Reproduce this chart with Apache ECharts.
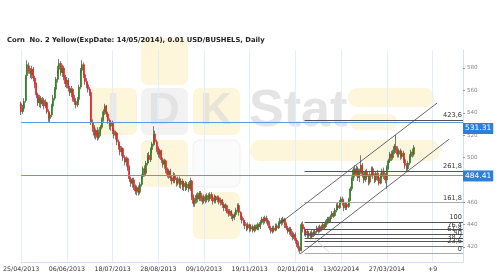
<!DOCTYPE html>
<html><head><meta charset="utf-8">
<script src="https://cdn.jsdelivr.net/npm/echarts@6/dist/echarts.min.js"></script>
<style>html,body{margin:0;padding:0;background:#fff}#c{width:500px;height:279px}</style>
</head><body><div id="c"></div>
<script>
const titleText = 'Corn  No. 2 Yellow(ExpDate: 14/05/2014), 0.01 USD/BUSHELS, Daily';
const tickLabels = ['25/04/2013','06/06/2013','18/07/2013','28/08/2013','09/10/2013','19/11/2013','02/01/2014','13/02/2014','27/03/2014','+9'];
const priceTicks = [420,440,460,480,500,520,540,560,580];
// [open, close, low, high]
const p1 = [[548,541,538,550],[541,544,539,547],[544,550,542,553],[551,572,549,574],[573,583,570,587],[582,578,575,585],[578,575,571,580],[574,579,570,582],[579,571,568,581],[571,566,562,573],
[566,556,553,567],[556,549,546,558],[549,553,545,556],[553,548,544,555],[548,551,546,554],[551,546,543,553],[546,549,544,552],[549,541,539,550],[541,535,532,543],[535,538,531,540],
[538,546,536,548],[546,553,544,556],[553,561,551,563],[561,570,559,572],[570,579,567,582],[579,584,575,588],[584,576,573,586],[576,580,572,583],[580,572,569,582],[572,566,563,574]];
const p2 = [[566,569,562,572],[569,562,559,571],[562,558,555,564],[558,561,554,564],[561,553,550,562],[553,550,547,556],[550,547,544,553],[547,552,545,554],[552,563,550,565],[563,578,561,580],
[578,583,575,587],[583,574,571,585],[574,568,565,576],[568,565,562,571],[565,561,558,567],[561,558,555,563],[558,531,529,559],[531,527,523,534],[527,520,517,529],[520,524,516,526],
[524,518,515,527],[518,522,516,525],[522,527,519,529],[527,534,525,536],[534,541,532,543],[541,546,538,548],[546,539,536,547],[539,533,530,541],[533,528,525,535],[528,531,524,533]];
const p3 = [[531,524,521,533],[524,520,517,526],[520,522,516,524],[522,514,511,523],[514,510,507,516],[510,505,502,512],[505,508,501,510],[508,500,497,509],[500,496,493,502],[496,499,492,501],
[499,491,488,500],[491,481,478,493],[481,477,474,483],[477,480,473,482],[480,474,471,482],[474,470,467,476],[470,473,466,475],[473,469,466,475],[469,476,467,478],[476,483,474,485],
[483,490,481,492],[490,486,483,493],[486,495,484,497],[495,502,493,504],[502,498,495,505],[498,507,496,509],[507,512,504,514],[512,521,510,528],[521,514,511,524],[514,508,505,516]];
const p4 = [[508,503,500,510],[503,506,499,508],[506,498,495,507],[498,494,491,500],[494,497,490,499],[497,489,486,498],[489,485,482,491],[485,488,481,490],[488,482,479,490],[482,479,476,484],
[479,484,477,487],[484,480,477,486],[480,477,474,482],[477,481,475,483],[481,476,473,483],[476,479,472,481],[479,474,471,481],[474,477,470,479],[477,473,470,479],[473,476,471,478],
[476,472,469,478],[472,479,470,482],[479,465,462,480],[465,459,456,467],[459,462,456,464],[462,466,459,468],[466,463,460,469],[463,468,461,470],[468,464,461,470],[464,461,458,466]];
const p5 = [[461,465,459,467],[465,462,459,467],[462,466,460,468],[466,463,460,468],[463,467,461,469],[467,464,461,469],[464,461,458,466],[461,465,459,467],[465,462,459,466],[462,464,460,466],
[464,460,458,466],[460,462,457,464],[462,458,455,463],[458,455,452,460],[455,457,452,459],[457,452,450,458],[452,450,447,454],[450,452,448,454],[452,448,445,453],[448,446,443,450],
[446,449,444,451],[449,453,447,455],[453,457,451,459],[457,451,448,459],[451,447,444,452],[447,444,441,449],[444,442,439,446],[442,439,436,444],[439,437,434,441],[437,440,435,442]];
const p6 = [[440,436,433,441],[436,438,434,440],[438,435,433,440],[435,438,433,440],[438,436,434,440],[436,440,435,442],[440,438,435,441],[438,442,436,444],[442,445,440,447],[445,443,440,447],
[443,446,441,448],[446,444,441,448],[444,441,439,446],[441,437,435,443],[437,434,432,439],[434,437,432,439],[437,435,433,439],[435,439,434,441],[439,437,435,441],[437,441,436,443],
[441,444,439,446],[444,442,439,446],[442,445,440,447],[445,440,437,446],[440,437,435,442],[437,434,432,439],[434,436,431,438],[436,432,430,438],[432,429,426,434],[429,431,427,433]];
const p7 = [[431,426,423,433],[426,423,420,428],[423,419,416,425],[419,417,414,421],[417,440,416,442],[440,436,433,443],[436,432,430,438],[432,434,429,436],[434,430,428,436],[430,432,428,434],
[432,429,427,434],[429,433,428,435],[433,431,429,435],[431,434,430,436],[434,437,432,439],[437,434,432,439],[434,438,433,440],[438,436,434,440],[436,440,435,442],[440,438,436,442],
[438,442,437,444],[442,445,440,447],[445,443,441,447],[443,447,442,449],[447,450,445,452],[450,448,446,452],[448,453,447,455],[453,457,451,459],[457,455,453,460],[455,460,454,462]];
const p8 = [[460,463,458,465],[463,460,457,465],[460,455,452,462],[455,458,453,460],[458,456,453,460],[456,462,455,464],[462,472,461,474],[472,481,470,483],[481,489,479,491],[489,485,482,493],
[485,490,483,493],[490,482,479,492],[482,487,478,490],[487,493,485,502],[493,485,482,495],[485,480,477,487],[480,487,478,489],[487,483,480,490],[483,478,475,485],[478,485,476,488],
[485,490,483,492],[490,484,481,492],[484,480,477,486],[480,486,478,488],[486,482,479,489],[482,477,475,484],[477,483,476,486],[483,488,481,490],[488,484,481,491],[484,480,477,486]];
const p9 = [[480,491,472,493],[491,497,489,499],[497,503,495,505],[503,500,497,506],[500,505,498,507],[505,510,503,512],[510,507,504,520],[507,503,500,510],[503,506,500,508],[506,501,498,508],
[501,504,499,506],[504,498,495,506],[498,493,490,500],[493,490,488,495],[490,495,488,497],[495,501,493,503],[501,505,499,507],[505,503,500,508],[503,509,501,511]];
const blueLevels = [531.31, 484.41];
const blueLabelShift = [6, 1];
const fibNames = ['423,6','261,8','161,8','100','76,4','61,8','50','38,2','23,6','0'];
const fibPrices = [533.5, 487.8, 459.6, 442.2, 435.5, 431.4, 428.1, 424.8, 420.7, 414.0];
const fibStartIdx = 186;
const channelUpper = [[170, 441.4], [273, 548.7]];
const channelLower = [[183, 413.7], [281, 516.5]];
const fibDiagonal = [[192, 428], [202, 415.5]];

const bars = [].concat(p1, p2, p3, p4, p5, p6, p7, p8, p9);
const NCAT = 291;
const cats = Array.from({length: NCAT}, (_, i) => String(i));
const lastIdx = NCAT - 1;

const bodies = bars.map(b => [b[0], b[1], Math.min(b[0], b[1]), Math.max(b[0], b[1])]);

const FONT = 'DejaVu Sans';
const fibColors = ['#555','#555','#aaa','#555','#555','#555','#555','#555','#777','#aaa'];

const markData = [];
blueLevels.forEach((v, i) => {
  markData.push([
    {coord: [0, v], lineStyle: {color: '#5b9be0', width: 1, type: 'solid'},
     label: {show: true, position: 'end', formatter: v.toFixed(2), color: '#fff', backgroundColor: '#2f7fd8',
       fontSize: 7.5, fontFamily: FONT, padding: [2, 2, 1, 2], distance: 0, offset: [0, blueLabelShift[i]]}},
    {coord: [lastIdx, v]}
  ]);
});
fibPrices.forEach((v, i) => {
  markData.push([
    {coord: [fibStartIdx, v], lineStyle: {color: fibColors[i], width: 1, type: 'solid'},
     label: {show: true, position: 'insideEndTop', formatter: fibNames[i], color: '#333', fontSize: 6.6, fontFamily: FONT, distance: 1}},
    {coord: [lastIdx, v]}
  ]);
});
[channelUpper, channelLower].forEach(ch => {
  markData.push([
    {coord: ch[0], lineStyle: {color: '#444', width: 0.8, type: 'solid'}, label: {show: false}},
    {coord: ch[1]}
  ]);
});
markData.push([
  {coord: fibDiagonal[0], lineStyle: {color: '#d0d0d0', width: 0.8, type: 'solid'}, label: {show: false}},
  {coord: fibDiagonal[1]}
]);

const Y = '#fdf6da', G = '#f2f2f2';
const wm = [
  {type: 'rect', shape: {x: 141, y: 38, width: 47, height: 47, r: 7}, style: {fill: Y}},
  {type: 'rect', shape: {x: 90, y: 88, width: 47, height: 47, r: 7}, style: {fill: Y}},
  {type: 'rect', shape: {x: 141, y: 88, width: 47, height: 47, r: 7}, style: {fill: G}},
  {type: 'rect', shape: {x: 193, y: 88, width: 47, height: 47, r: 7}, style: {fill: Y}},
  {type: 'rect', shape: {x: 141, y: 140, width: 47, height: 47, r: 7}, style: {fill: Y}},
  {type: 'rect', shape: {x: 193, y: 140, width: 47, height: 47, r: 7}, style: {fill: '#fbfbfb', stroke: '#f0f0f0', lineWidth: 1}},
  {type: 'rect', shape: {x: 193, y: 192, width: 47, height: 47, r: 7}, style: {fill: Y}},
  {type: 'rect', shape: {x: 348, y: 88, width: 86, height: 19, r: 9}, style: {fill: Y}},
  {type: 'rect', shape: {x: 350, y: 114, width: 47, height: 16, r: 8}, style: {fill: Y}},
  {type: 'rect', shape: {x: 250, y: 140, width: 190, height: 21, r: 10}, style: {fill: Y}},
  {type: 'text', style: {x: 113, y: 112, text: 'I', font: 'bold 44px "Liberation Sans"', fill: '#e8e8e8', align: 'center', verticalAlign: 'middle'}},
  {type: 'text', style: {x: 164, y: 112, text: 'D', font: 'bold 44px "Liberation Sans"', fill: '#e3e3e3', align: 'center', verticalAlign: 'middle'}},
  {type: 'text', style: {x: 216, y: 112, text: 'K', font: 'bold 44px "Liberation Sans"', fill: '#e8e4d8', align: 'center', verticalAlign: 'middle'}},
  {type: 'text', style: {x: 249, y: 112, text: 'Stat', font: 'bold 52px "Liberation Sans"', fill: '#e4e4e4', align: 'left', verticalAlign: 'middle'}}
].map(e => Object.assign({z: -10, silent: true}, e));

const chart = echarts.init(document.getElementById('c'), null, {renderer: 'canvas'});
chart.setOption({
  animation: false,
  backgroundColor: '#fff',
  title: {text: titleText, left: 2, top: 32, textStyle: {fontSize: 6.8, fontWeight: 'bold', fontFamily: FONT, color: '#222'}},
  graphic: wm,
  grid: {left: 19, right: 37, top: 50, bottom: 17},
  xAxis: {
    type: 'category', data: cats, boundaryGap: false,
    axisLine: {show: true, lineStyle: {color: '#cfe0f2'}},
    axisTick: {show: false},
    axisLabel: {interval: 29, formatter: (v, i) => (i % 30 === 0 ? (tickLabels[i / 30] || '') : ''), color: '#333', fontSize: 6.3, fontFamily: FONT, margin: 4},
    splitLine: {show: true, interval: 29, lineStyle: {color: '#e3eef9', width: 1}}
  },
  yAxis: {
    type: 'value', position: 'right', min: 406.6, max: 596.1, scale: true,
    axisLine: {show: true, lineStyle: {color: '#cfe0f2'}},
    axisTick: {show: true, length: 2, customValues: priceTicks, lineStyle: {color: '#999'}},
    axisLabel: {customValues: priceTicks, color: '#888', fontSize: 5.6, fontFamily: FONT, margin: 4},
    splitLine: {show: false}
  },
  series: [
    {type: 'candlestick', data: bars, barWidth: 0.1,
     itemStyle: {color: '#7a7a7a', color0: '#7a7a7a', borderColor: '#7a7a7a', borderColor0: '#7a7a7a', borderWidth: 1}},
    {type: 'candlestick', data: bodies, barWidth: 1.5,
     itemStyle: {color: '#2f8420', color0: '#ee2424', borderColor: '#2f8420', borderColor0: '#ee2424', borderWidth: 0.7},
     markLine: {silent: true, symbol: 'none', animation: false, data: markData}}
  ]
});
</script></body></html>
